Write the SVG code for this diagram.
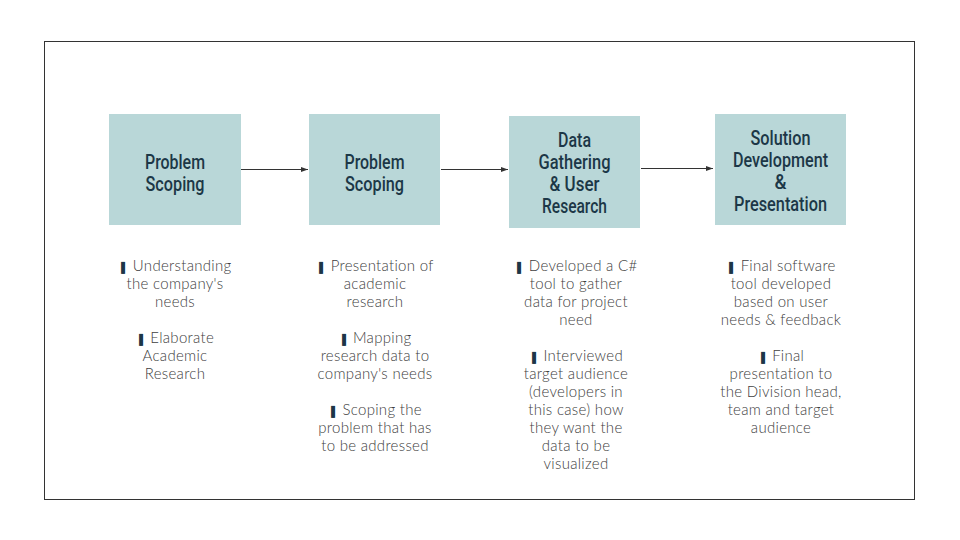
<svg xmlns="http://www.w3.org/2000/svg" width="960" height="540" viewBox="0 0 960 540">
<style>
.box{fill:#b9d7d8}
.t{font-family:"Roboto","Liberation Sans",sans-serif;font-size:21px;font-weight:500;fill:#1c3747;text-anchor:middle}
.t2{font-size:20px}
.b{font-family:"Lato","Open Sans",sans-serif;font-size:15px;fill:#404040;text-anchor:middle;font-weight:300;letter-spacing:0.3px}
.m{font-family:"DejaVu Sans",sans-serif;fill:#1c3747;font-size:12px;letter-spacing:0}
.c{stroke:#333;stroke-width:1;fill:none}
</style>
<defs>
<marker id="ah" markerWidth="8" markerHeight="6" refX="7" refY="3" orient="auto" markerUnits="userSpaceOnUse">
<path d="M0,0.5 L7,3 L0,5.5 z" fill="#333"/>
</marker>
</defs>
<rect x="0" y="0" width="960" height="540" fill="#fff"/>
<rect x="44.5" y="41.5" width="870" height="458" fill="none" stroke="#333" stroke-width="1"/>
<g id="connectors">
<line class="c" x1="241" y1="169.5" x2="308" y2="169.5" marker-end="url(#ah)"/>
<line class="c" x1="441" y1="169.5" x2="508" y2="169.5" marker-end="url(#ah)"/>
<line class="c" x1="641" y1="168.5" x2="713" y2="168.5" marker-end="url(#ah)"/>
</g>
<g id="node1">
<rect class="box" x="109" y="114" width="132" height="111"/>
<text class="t" x="175" y="168.5" textLength="60" lengthAdjust="spacingAndGlyphs">Problem</text>
<text class="t" x="175" y="190.5" textLength="59" lengthAdjust="spacingAndGlyphs">Scoping</text>
</g>
<g id="node2">
<rect class="box" x="309" y="114" width="131" height="111"/>
<text class="t" x="374.5" y="168.5" textLength="60" lengthAdjust="spacingAndGlyphs">Problem</text>
<text class="t" x="374.5" y="190.5" textLength="59" lengthAdjust="spacingAndGlyphs">Scoping</text>
</g>
<g id="node3">
<rect class="box" x="509" y="116" width="131" height="112"/>
<text class="t t2" x="574.5" y="146.5" textLength="33" lengthAdjust="spacingAndGlyphs">Data</text>
<text class="t t2" x="574.5" y="168.5" textLength="72" lengthAdjust="spacingAndGlyphs">Gathering</text>
<text class="t t2" x="574.5" y="190.5" textLength="50" lengthAdjust="spacingAndGlyphs">&amp; User</text>
<text class="t t2" x="574.5" y="212.5" textLength="65" lengthAdjust="spacingAndGlyphs">Research</text>
</g>
<g id="node4">
<rect class="box" x="715" y="114" width="131" height="111"/>
<text class="t t2" x="780.5" y="144.5" textLength="60" lengthAdjust="spacingAndGlyphs">Solution</text>
<text class="t t2" x="780.5" y="166.5" textLength="95" lengthAdjust="spacingAndGlyphs">Development</text>
<text class="t t2" x="780.5" y="188.5" textLength="12" lengthAdjust="spacingAndGlyphs">&amp;</text>
<text class="t t2" x="780.5" y="210.5" textLength="93" lengthAdjust="spacingAndGlyphs">Presentation</text>
</g>
<g id="text1">
<text class="b" x="175" y="271"><tspan class="m">❚</tspan> Understanding</text>
<text class="b" x="175" y="289">the company's</text>
<text class="b" x="175" y="307">needs</text>
<text class="b" x="175" y="343"><tspan class="m">❚</tspan> Elaborate</text>
<text class="b" x="175" y="361">Academic</text>
<text class="b" x="175" y="379">Research</text>
</g>
<g id="text2">
<text class="b" x="375" y="271"><tspan class="m">❚</tspan> Presentation of</text>
<text class="b" x="375" y="289">academic</text>
<text class="b" x="375" y="307">research</text>
<text class="b" x="375" y="343"><tspan class="m">❚</tspan> Mapping</text>
<text class="b" x="375" y="361">research data to</text>
<text class="b" x="375" y="379">company's needs</text>
<text class="b" x="375" y="415"><tspan class="m">❚</tspan> Scoping the</text>
<text class="b" x="375" y="433">problem that has</text>
<text class="b" x="375" y="451">to be addressed</text>
</g>
<g id="text3">
<text class="b" x="576" y="271"><tspan class="m">❚</tspan> Developed a C#</text>
<text class="b" x="576" y="289">tool to gather</text>
<text class="b" x="576" y="307">data for project</text>
<text class="b" x="576" y="325">need</text>
<text class="b" x="576" y="361"><tspan class="m">❚</tspan> Interviewed</text>
<text class="b" x="576" y="379">target audience</text>
<text class="b" x="576" y="397">(developers in</text>
<text class="b" x="576" y="415">this case) how</text>
<text class="b" x="576" y="433">they want the</text>
<text class="b" x="576" y="451">data to be</text>
<text class="b" x="576" y="469">visualized</text>
</g>
<g id="text4">
<text class="b" x="781" y="271"><tspan class="m">❚</tspan> Final software</text>
<text class="b" x="781" y="289">tool developed</text>
<text class="b" x="781" y="307">based on user</text>
<text class="b" x="781" y="325">needs &amp; feedback</text>
<text class="b" x="781" y="361"><tspan class="m">❚</tspan> Final</text>
<text class="b" x="781" y="379">presentation to</text>
<text class="b" x="781" y="397">the Division head,</text>
<text class="b" x="781" y="415">team and target</text>
<text class="b" x="781" y="433">audience</text>
</g>
</svg>
